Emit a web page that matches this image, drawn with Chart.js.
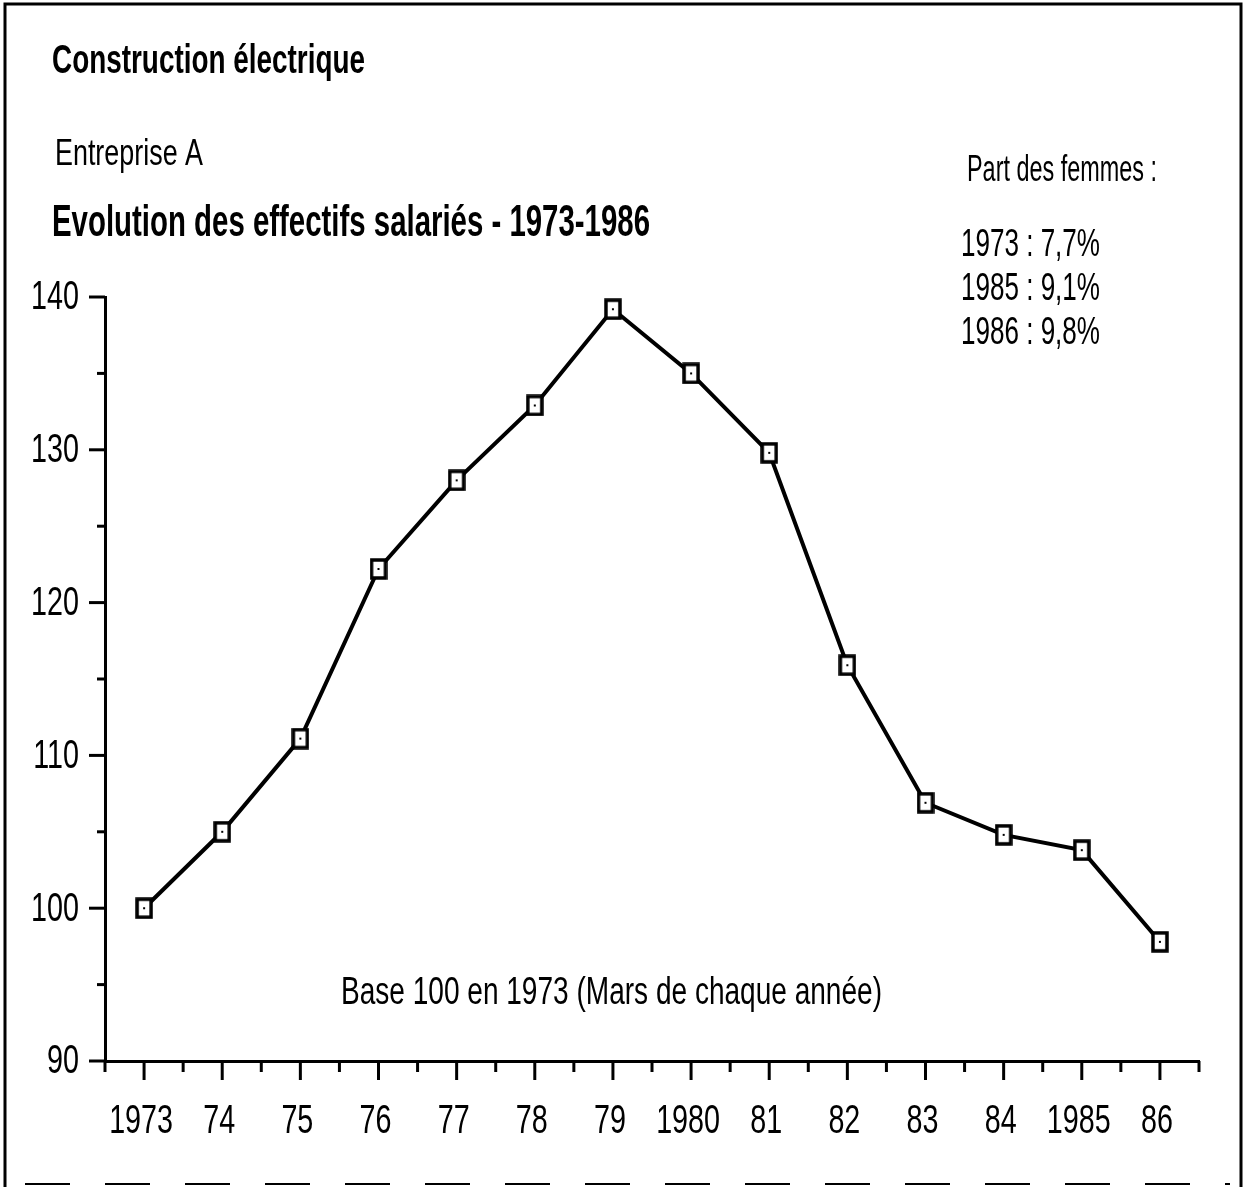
<!DOCTYPE html>
<html>
<head>
<meta charset="utf-8">
<script src="https://cdn.jsdelivr.net/npm/chart.js@4.4.1/dist/chart.umd.min.js"></script>
<style>
  html, body { margin: 0; padding: 0; background: #fff; }
</style>
</head>
<body>
<canvas id="effectifs-chart" width="1249" height="1187"></canvas>
<script>
const years = [1973, 1974, 1975, 1976, 1977, 1978, 1979, 1980, 1981, 1982, 1983, 1984, 1985, 1986];
const yearLabels = ['1973', '74', '75', '76', '77', '78', '79', '1980', '81', '82', '83', '84', '1985', '86'];
const effectifs = [100, 105, 111.1, 122.2, 128, 132.9, 139.2, 135, 129.8, 115.9, 106.9, 104.8, 103.8, 97.8];
const yTickLabels = [90, 100, 110, 120, 130, 140];
const partFemmes = ['1973 : 7,7%', '1985 : 9,1%', '1986 : 9,8%'];

const FONT = '"Liberation Sans", Arial, sans-serif';
const SQUEEZE = 0.7; // no narrow font installed, so labels are squeezed by hand

// tall square marker with a dot in the middle
function makeMarker() {
  const c = document.createElement('canvas');
  c.width = 18;
  c.height = 22;
  const g = c.getContext('2d');
  g.fillStyle = '#fff';
  g.fillRect(1, 1, 16, 20);
  g.strokeStyle = '#000';
  g.lineWidth = 3.5;
  g.strokeRect(2, 2, 14, 18);
  g.fillStyle = '#000';
  g.fillRect(8, 10, 2, 2);
  return c;
}

// draw text squeezed to a given width
function fitText(ctx, text, x, y, font, width) {
  ctx.save();
  ctx.font = font;
  const w = ctx.measureText(text).width;
  ctx.translate(x, y);
  ctx.scale(width / w, 1);
  ctx.fillText(text, 0, 0);
  ctx.restore();
}

function squeezedText(ctx, text, x, y, align) {
  ctx.save();
  ctx.translate(x, y);
  ctx.scale(SQUEEZE, 1);
  ctx.textAlign = align;
  ctx.fillText(text, 0, 0);
  ctx.restore();
}

// ticks (long on whole values, short in between) and their labels
const axisTicks = {
  id: 'axisTicks',
  afterDraw(chart) {
    const { ctx, chartArea, scales: { x, y } } = chart;
    ctx.save();
    ctx.strokeStyle = '#000';
    ctx.fillStyle = '#000';
    ctx.lineWidth = 3;
    ctx.font = '41px ' + FONT;
    ctx.textBaseline = 'alphabetic';
    x.ticks.forEach(t => {
      const px = x.getPixelForValue(t.value);
      const major = Number.isInteger(t.value);
      ctx.beginPath();
      ctx.moveTo(px, chartArea.bottom);
      ctx.lineTo(px, chartArea.bottom + (major ? 19 : 11));
      ctx.stroke();
      const i = years.indexOf(t.value);
      if (i >= 0) squeezedText(ctx, yearLabels[i], px - 3, 1133, 'center');
    });
    ctx.textBaseline = 'middle';
    y.ticks.forEach(t => {
      const py = y.getPixelForValue(t.value);
      const major = yTickLabels.includes(t.value);
      ctx.beginPath();
      ctx.moveTo(chartArea.left, py);
      ctx.lineTo(chartArea.left - (major ? 16 : 8), py);
      ctx.stroke();
      if (major) squeezedText(ctx, String(t.value), 79, py + 1, 'right');
    });
    ctx.restore();
  }
};

const texts = {
  id: 'texts',
  afterDraw(chart) {
    const ctx = chart.ctx;
    ctx.save();
    ctx.fillStyle = '#000';
    ctx.textBaseline = 'alphabetic';
    ctx.textAlign = 'left';
    fitText(ctx, 'Construction électrique', 52, 73, 'bold 40px ' + FONT, 313);
    fitText(ctx, 'Entreprise A', 55, 165, '37px ' + FONT, 148);
    fitText(ctx, 'Evolution des effectifs salariés - 1973-1986', 52, 236, 'bold 44px ' + FONT, 598);
    fitText(ctx, 'Part des femmes :', 967, 181, '36px ' + FONT, 190);
    partFemmes.forEach((s, i) => fitText(ctx, s, 961, 256 + i * 44, '38px ' + FONT, 139));
    fitText(ctx, 'Base 100 en 1973 (Mars de chaque année)', 341, 1004, '38px ' + FONT, 541);

    // frame of the page
    ctx.strokeStyle = '#000';
    ctx.lineWidth = 3;
    ctx.beginPath();
    ctx.moveTo(5, 1187);
    ctx.lineTo(5, 4);
    ctx.lineTo(1241, 4);
    ctx.lineTo(1241, 1187);
    ctx.stroke();
    ctx.lineWidth = 2;
    ctx.setLineDash([45, 35]);
    ctx.beginPath();
    ctx.moveTo(25, 1184);
    ctx.lineTo(1230, 1184);
    ctx.stroke();
    ctx.restore();
  }
};

const data = {
  datasets: [{
    label: 'Effectifs',
    data: years.map((yr, i) => ({ x: yr, y: effectifs[i] })),
    borderColor: '#000',
    borderWidth: 4,
    pointStyle: makeMarker(),
    pointRadius: 9,
    tension: 0,
  }],
};

const config = {
  type: 'line',
  data: data,
  options: {
    responsive: false,
    animation: false,
    layout: { padding: { top: 297, right: 50, left: 0, bottom: 0 } },
    plugins: {
      legend: { display: false },
      tooltip: { enabled: false },
    },
    scales: {
      x: {
        type: 'linear',
        min: 1972.5,
        max: 1986.5,
        afterFit: s => { s.height = 126; },
        grid: { display: false, drawTicks: false, tickLength: 0 },
        border: { display: true, color: '#000', width: 3 },
        ticks: { stepSize: 0.5, autoSkip: false, display: false },
      },
      y: {
        min: 90,
        max: 140,
        afterFit: s => { s.width = 105; },
        grid: { display: false, drawTicks: false, tickLength: 0 },
        border: { display: true, color: '#000', width: 3 },
        ticks: { stepSize: 5, display: false },
      },
    },
  },
  plugins: [axisTicks, texts],
};

new Chart(document.querySelector('#effectifs-chart'), config);
</script>
</body>
</html>
